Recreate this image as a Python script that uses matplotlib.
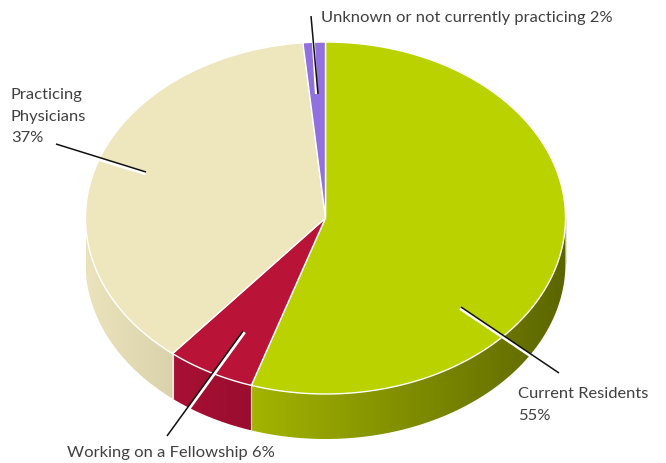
import numpy as np
import matplotlib
matplotlib.use('Agg')
import matplotlib.pyplot as plt
from matplotlib.patches import Polygon
from matplotlib.colors import LinearSegmentedColormap

plt.rcParams['font.family'] = ['Lato', 'DejaVu Sans']

categories = ['Current Residents', 'Working on a Fellowship', 'Practicing Physicians', 'Unknown or not currently practicing']
# slice sizes (the last one is drawn narrower than its 2% label)
shares = [55, 6, 37.5, 1.5]
top_colors = ['#b9d200', '#b91437', '#eee6bc', '#9170df']
side_left = ['#a3b400', '#a81034', '#ebe3bb', '#9170df']
side_right = ['#5c6600', '#9a0d2e', '#d9d2ab', '#9170df']

cx, cy, rx, ry = 325.5, 218, 240, 176
depth = 45

def ellipse(t):
    # t in degrees clockwise from the top of the pie
    t = np.radians(t)
    return np.c_[cx + rx * np.sin(t), cy - ry * np.cos(t)]

fig = plt.figure(figsize=(6.66, 4.63), dpi=100)
ax = fig.add_axes([0, 0, 1, 1])

edges = np.r_[0, np.cumsum(shares)] / np.sum(shares) * 360

# side wall, only the front half of the rim shows
for i in range(len(shares)):
    start = max(edges[i], 90)
    stop = min(edges[i + 1], 270)
    if stop <= start:
        continue
    rim = ellipse(np.linspace(start, stop, 120))
    wall = np.r_[rim, rim[::-1] + [0, depth]]
    patch = Polygon(wall, closed=True, fc='none', ec='none')
    ax.add_patch(patch)
    cmap = LinearSegmentedColormap.from_list('side', [side_left[i], side_right[i]])
    img = ax.imshow(np.linspace(0, 1, 256).reshape(1, -1), cmap=cmap, aspect='auto',
                    extent=[rim[:, 0].min(), rim[:, 0].max(), wall[:, 1].max(), wall[:, 1].min()],
                    zorder=1)
    img.set_clip_path(patch)
    # pale seam between wall pieces
    ax.plot([rim[0, 0], rim[0, 0]], [rim[0, 1], rim[0, 1] + depth], color='#e8e4d8', lw=0.8, zorder=2)

# top face
for i in range(len(shares)):
    arc = ellipse(np.linspace(edges[i], edges[i + 1], 200))
    ax.add_patch(Polygon(np.r_[[[cx, cy]], arc], closed=True, fc=top_colors[i], ec='white', lw=1, zorder=3))

# leader lines: (from, to, white halo from, white halo to)
leaders = [
    ((311, 16), (318, 94), (315, 42), (318, 94), -1.6, 0),
    ((167, 436), (243, 331), (187, 408), (243, 331), 1.6, 1.2),
    ((461, 307), (559, 373), (461, 307), (531, 354), -0.9, 1.5),
    ((56, 144), (146, 172), (100, 158), (146, 172), -0.5, 1.7),
]
for p0, p1, h0, h1, dx, dy in leaders:
    ax.plot([h0[0] + dx, h1[0] + dx], [h0[1] + dy, h1[1] + dy], color='white', lw=2.2, zorder=4, solid_capstyle='butt')
    ax.plot([p0[0], p1[0]], [p0[1], p1[1]], color='#111111', lw=1.1, zorder=5, solid_capstyle='butt')

text_color = '#404040'
labels = [
    (321, 18, 'Unknown or not currently practicing 2%'),
    (518, 394, 'Current Residents'),
    (518, 416, '55%'),
    (67, 453, 'Working on a Fellowship 6%'),
    (11, 95, 'Practicing'),
    (11, 117, 'Physicians'),
    (11, 138, '37%'),
]
for x, y, s in labels:
    ax.text(x, y, s, fontsize=11.85, color=text_color, va='center', ha='left', zorder=6)

ax.set_xlim(0, 666)
ax.set_ylim(463, 0)
ax.axis('off')
fig.savefig('out.png', dpi=100)
